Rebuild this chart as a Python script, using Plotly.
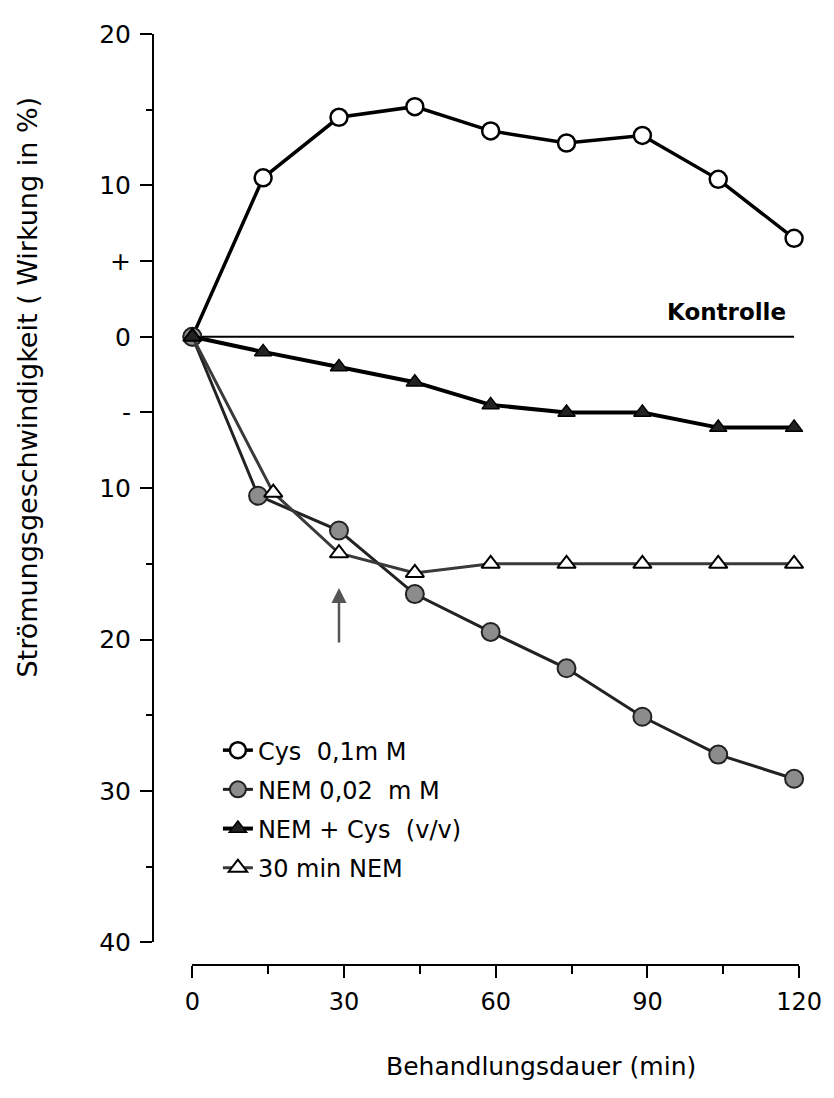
import plotly.graph_objects as go

# ---- data ----
time_cys = [0, 14, 29, 44, 59, 74, 89, 104, 119]
cys_vals = [0, 10.5, 14.5, 15.2, 13.6, 12.8, 13.3, 10.4, 6.5]

time_nem = [0, 13, 29, 44, 59, 74, 89, 104, 119]
nem_vals = [0, -10.5, -12.8, -17.0, -19.5, -21.9, -25.1, -27.6, -29.2]

time_mix = [0, 14, 29, 44, 59, 74, 89, 104, 119]
mix_vals = [0, -1.0, -2.0, -3.0, -4.5, -5.0, -5.0, -6.0, -6.0]

time_nem30 = [0, 16, 29, 44, 59, 74, 89, 104, 119]
nem30_vals = [0, -10.3, -14.3, -15.6, -15.0, -15.0, -15.0, -15.0, -15.0]

kontrolle_x = [0, 119]
kontrolle_y = [0, 0]

y_tickvals = [20, 10, 5, 0, -5, -10, -20, -30, -40]
y_ticktext = ["20", "10", "+", "0", "-", "10", "20", "30", "40"]
y_minor = [15, -15, -25, -35]
x_tickvals = [0, 30, 60, 90, 120]
x_minor = [15, 45, 75, 105]

FONT = "DejaVu Sans"
W, H = 834, 1098
L, R, T, B = 145, 24, 14, 141
pw, ph = W - L - R, H - T - B
x0px, x120px = 185, 802
ybot_px = 934
base = T + ph  # pixel row of paper y=0


def px_x(p):
    return (p - L) / pw


def px_y(p):
    return (base - p) / ph


fig = go.Figure()

fig.add_trace(go.Scatter(x=kontrolle_x, y=kontrolle_y, mode="lines",
                         line=dict(color="black", width=2), showlegend=False,
                         cliponaxis=False, hoverinfo="skip"))

fig.add_trace(go.Scatter(x=time_cys, y=cys_vals, mode="lines+markers", name="Cys  0,1m M",
                         line=dict(color="black", width=3.5),
                         marker=dict(symbol="circle", size=17, color="white",
                                     line=dict(color="black", width=2.5)),
                         legendgroup="a", legendrank=1, cliponaxis=False))

fig.add_trace(go.Scatter(x=time_nem, y=nem_vals, mode="lines+markers", name="NEM 0,02  m M",
                         line=dict(color="#222222", width=3),
                         marker=dict(symbol="circle", size=18, color="#8c8c8c",
                                     line=dict(color="#222222", width=2)),
                         legendgroup="b", legendrank=2, cliponaxis=False))

fig.add_trace(go.Scatter(x=time_nem30, y=nem30_vals, mode="lines+markers", name="30 min NEM",
                         line=dict(color="#3a3a3a", width=3),
                         marker=dict(symbol="triangle-up", size=16, color="white",
                                     line=dict(color="black", width=2)),
                         legendgroup="d", legendrank=4, cliponaxis=False))

fig.add_trace(go.Scatter(x=time_mix, y=mix_vals, mode="lines+markers", name="NEM + Cys  (v/v)",
                         line=dict(color="black", width=4),
                         marker=dict(symbol="triangle-up", size=15, color="#222222",
                                     line=dict(color="black", width=1.5)),
                         legendgroup="c", legendrank=3, cliponaxis=False))

fig.add_annotation(x=119, y=0, xref="x", yref="y", text="<b>Kontrolle</b>", showarrow=False,
                   xanchor="right", yanchor="bottom", yshift=10, xshift=-6,
                   font=dict(family=FONT, size=23, color="black"))

fig.add_annotation(x=29, y=-16.6, xref="x", yref="y", ax=29, ay=-20.3, axref="x", ayref="y",
                   text="", showarrow=True, arrowhead=2, arrowsize=1.2, arrowwidth=2.5,
                   arrowcolor="#555555")

fig.add_annotation(x=px_x(17), y=px_y(372), xref="paper", yref="paper",
                   xanchor="center", yanchor="middle",
                   text="Strömungsgeschwindigkeit ( Wirkung in %)", textangle=-90,
                   showarrow=False, font=dict(family=FONT, size=27, color="black"))

fig.add_annotation(x=px_x(540), y=px_y(1060), xref="paper", yref="paper",
                   xanchor="center", yanchor="middle",
                   text="Behandlungsdauer (min)", showarrow=False,
                   font=dict(family=FONT, size=25, color="black"))

fig.update_layout(
    width=W, height=H,
    margin=dict(l=L, r=R, t=T, b=B),
    plot_bgcolor="white", paper_bgcolor="white",
    font=dict(family=FONT, size=24, color="black"),
    showlegend=True,
    legend=dict(x=px_x(211), y=px_y(717), xanchor="left", yanchor="top",
                bgcolor="rgba(0,0,0,0)", traceorder="grouped", tracegroupgap=5,
                font=dict(family=FONT, size=24, color="black"), itemwidth=30),
    xaxis=dict(domain=[px_x(x0px), px_x(x120px)], range=[0, 120],
               anchor="free", position=0, showline=True, linecolor="black", linewidth=2,
               ticks="outside", ticklen=12, tickwidth=2, tickcolor="black",
               tickvals=x_tickvals, ticktext=[str(v) for v in x_tickvals],
               tickfont=dict(family=FONT, size=24), ticklabeloverflow="allow",
               minor=dict(tickvals=x_minor, ticks="outside", ticklen=8, tickwidth=2,
                          tickcolor="black"),
               showgrid=False, zeroline=False, ticklabelstandoff=3),
    yaxis=dict(domain=[px_y(ybot_px), 1], range=[-40, 20],
               anchor="free", position=0, showline=True, linecolor="black", linewidth=2,
               ticks="outside", ticklen=12, tickwidth=2, tickcolor="black",
               tickvals=y_tickvals, ticktext=y_ticktext,
               tickfont=dict(family=FONT, size=25), ticklabeloverflow="allow",
               minor=dict(tickvals=y_minor, ticks="outside", ticklen=6, tickwidth=2,
                          tickcolor="black"),
               showgrid=False, zeroline=False, ticklabelstandoff=4),
)

fig.write_html("out.html")
